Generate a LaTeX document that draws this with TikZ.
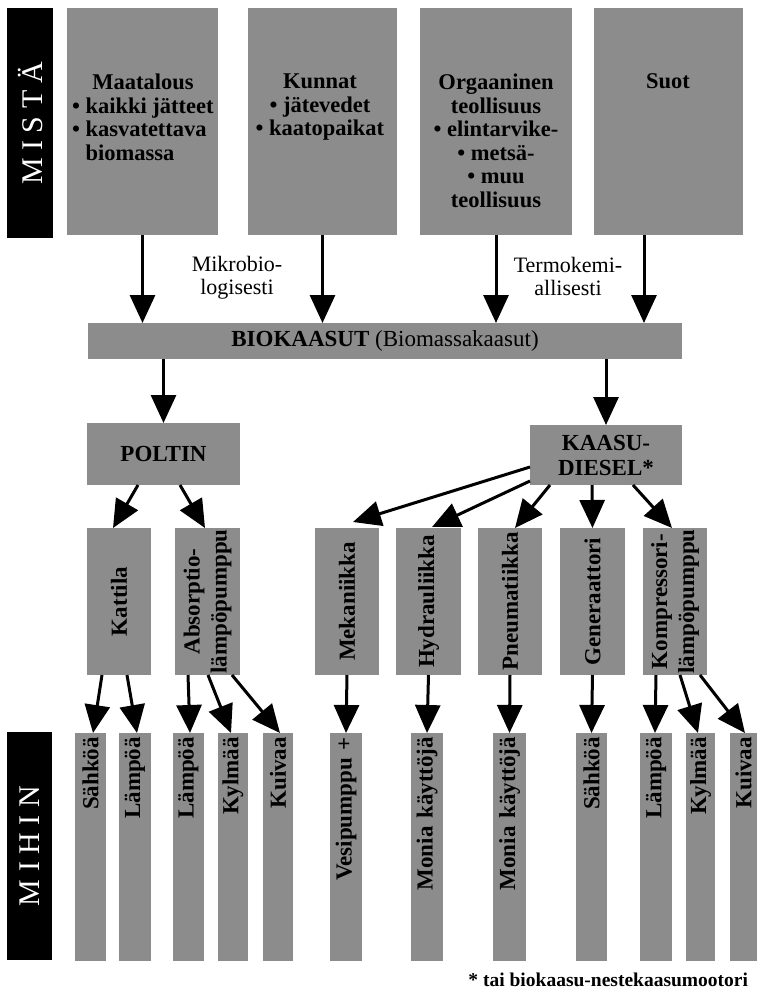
\documentclass[tikz,border=0pt]{standalone}
\usepackage{fontspec}
\setmainfont{Liberation Serif}
\usetikzlibrary{arrows.meta,calc}
\definecolor{boxgray}{RGB}{140,140,140}
\begin{document}
\begin{tikzpicture}[x=1pt,y=-1pt,
  every node/.style={inner sep=0pt,outer sep=0pt},
  gbox/.style={fill=boxgray},
  blackbox/.style={fill=black,text=white,rotate=90,font=\fontsize{30}{30}\selectfont},
  toptxt/.style={font=\bfseries\fontsize{22.5}{23.5}\selectfont},
  lbl/.style={align=center,font=\fontsize{22}{23}\selectfont},
  bfont/.style={font=\bfseries\fontsize{23}{25}\selectfont},
  midbox/.style={gbox,rotate=90,minimum width=147pt,minimum height=64pt,align=center,font=\bfseries\fontsize{23}{27}\selectfont},
  botbox/.style={gbox,rotate=90,minimum width=228pt,minimum height=#1,text width=220pt,inner xsep=4pt,align=right,font=\bfseries\fontsize{23}{24}\selectfont},
  arr/.style={line width=3pt,-{Triangle[length=28pt,width=25pt]}}
]
\useasboundingbox (0,0) rectangle (757,997);

% black side labels
\node[blackbox,minimum width=230pt,minimum height=46pt] (mista) at (30,123) {M I S T Ä};
\node[blackbox,minimum width=228pt,minimum height=45pt] (mihin) at (29.5,846) {M I H I N};

% top boxes
\node[gbox,minimum width=151pt,minimum height=227pt] (maa) at (142.5,121.5) {};
\node[gbox,minimum width=149pt,minimum height=227pt] (kun) at (322.5,121.5) {};
\node[gbox,minimum width=152pt,minimum height=227pt] (org) at (496,121.5) {};
\node[gbox,minimum width=149pt,minimum height=227pt] (suo) at (668.5,121.5) {};

\node[toptxt,align=left,anchor=north west] (maaT) at (72,74)
  {\makebox[142pt][c]{Maatalous}\\• kaikki jätteet\\• kasvatettava\\\hphantom{• }biomassa};
\node[toptxt,align=center,anchor=north] (kunT) at (320,74) {Kunnat\\• jätevedet\\• kaatopaikat};
\node[toptxt,align=center,anchor=north] (orgT) at (496,74) {Orgaaninen\\teollisuus\\• elintarvike-\\• metsä-\\• muu\\teollisuus};
\node[toptxt,align=center,anchor=north] (suoT) at (668,74) {Suot};

% labels
\node[lbl] (mik) at (237,278) {Mikrobio-\\logisesti};
\node[lbl] (ter) at (568,276) {Termokemi-\\allisesti};

% bar
\node[gbox,minimum width=594pt,minimum height=36pt,font=\fontsize{23}{24}\selectfont] (bio) at (385,341) {\textbf{BIOKAASUT} (Biomassakaasut)};

% second level
\node[gbox,bfont,minimum width=153pt,minimum height=62pt] (pol) at (163.5,454) {POLTIN};
\node[gbox,bfont,align=center,minimum width=152pt,minimum height=60pt] (kd) at (606,455) {KAASU-\\DIESEL*};

% middle boxes
\node[midbox] (kat) at (119,601.5) {Kattila};
\node[midbox,minimum height=65pt] (abs) at (207.5,601.5) {Absorptio-\\lämpöpumppu};
\node[midbox] (mek) at (347,601.5) {Mekaniikka};
\node[midbox,minimum height=65pt] (hyd) at (428.5,601.5) {Hydrauliikka};
\node[midbox] (pne) at (510,601.5) {Pneumatiikka};
\node[midbox,minimum height=65pt] (gen) at (592.5,601.5) {Generaattori};
\node[midbox] (kom) at (675,601.5) {Kompressori-\\lämpöpumppu};

% bottom boxes
\node[botbox=31pt] (b1) at (90.5,847) {Sähköä};
\node[botbox=32pt] (b2) at (135,847) {Lämpöä};
\node[botbox=31pt] (b3) at (188.5,847) {Lämpöä};
\node[botbox=30pt] (b4) at (233,847) {Kylmää};
\node[botbox=30pt] (b5) at (278,847) {Kuivaa};
\node[botbox=32pt] (b6) at (346,847) {Vesipumppu +};
\node[botbox=32pt] (b7) at (427,847) {Monia käyttöjä};
\node[botbox=33pt] (b8) at (509.5,847) {Monia käyttöjä};
\node[botbox=31pt] (b9) at (591.5,847) {Sähköä};
\node[botbox=32pt] (b10) at (656,847) {Lämpöä};
\node[botbox=29pt] (b11) at (700.5,847) {Kylmää};
\node[botbox=27pt] (b12) at (743.5,847) {Kuivaa};

% footnote
\node[font=\bfseries\fontsize{19.5}{22}\selectfont,anchor=base east] (fn) at (748,986) {* tai biokaasu-nestekaasumootori};

% arrows top -> bar
\draw[arr] (maa.south) -- (maa.south |- bio.north);
\draw[arr] (kun.south) -- (kun.south |- bio.north);
\draw[arr] (org.south) -- (org.south |- bio.north);
\draw[arr] ([xshift=-24.5pt]suo.south) -- ([xshift=-24.5pt]suo.south |- bio.north);

% bar -> second level
\draw[arr] (pol.north |- bio.south) -- (pol.north);
\draw[arr] (kd.north |- bio.south) -- (kd.north);

% poltin -> middle
\draw[arr] ([xshift=-25.5pt]pol.south) -- ([xshift=-6pt]kat.east);
\draw[arr] ([xshift=16.5pt]pol.south) -- ([xshift=-2.5pt]abs.east);

% kaasudiesel -> middle
\draw[arr] ([yshift=-12pt]kd.west) -- ([xshift=6pt,yshift=6pt]mek.east);
\draw[arr] ([yshift=4pt]kd.south west) -- ([xshift=3.5pt,yshift=1pt]hyd.east);
\draw[arr] ([xshift=-56pt]kd.south) -- ([xshift=5pt]pne.east);
\draw[arr] ([xshift=-14pt]kd.south) -- (gen.east);
\draw[arr] ([xshift=27pt]kd.south) -- ([xshift=-3pt]kom.east);

% middle -> bottom
\draw[arr] ([xshift=-17pt]kat.west) -- ([xshift=2.5pt]b1.east);
\draw[arr] ([xshift=8pt]kat.west) -- ([xshift=2pt]b2.east);
\draw[arr] ([xshift=-19.5pt]abs.west) -- ([xshift=1.5pt]b3.east);
\draw[arr] ([xshift=0.5pt]abs.west) -- ([xshift=-2pt]b4.east);
\draw[arr] ([xshift=24.5pt]abs.west) -- ([xshift=2pt]b5.east);
\draw[arr] (mek.west) -- (b6.east);
\draw[arr] (hyd.west) -- (b7.east);
\draw[arr] (pne.west) -- (b8.east);
\draw[arr] (gen.west) -- (b9.east);
\draw[arr] ([xshift=-19pt]kom.west) -- ([xshift=-1pt]b10.east);
\draw[arr] ([xshift=5pt]kom.west) -- ([xshift=-2.5pt]b11.east);
\draw[arr] ([xshift=25pt]kom.west) -- ([xshift=1.5pt]b12.east);
\end{tikzpicture}
\end{document}
